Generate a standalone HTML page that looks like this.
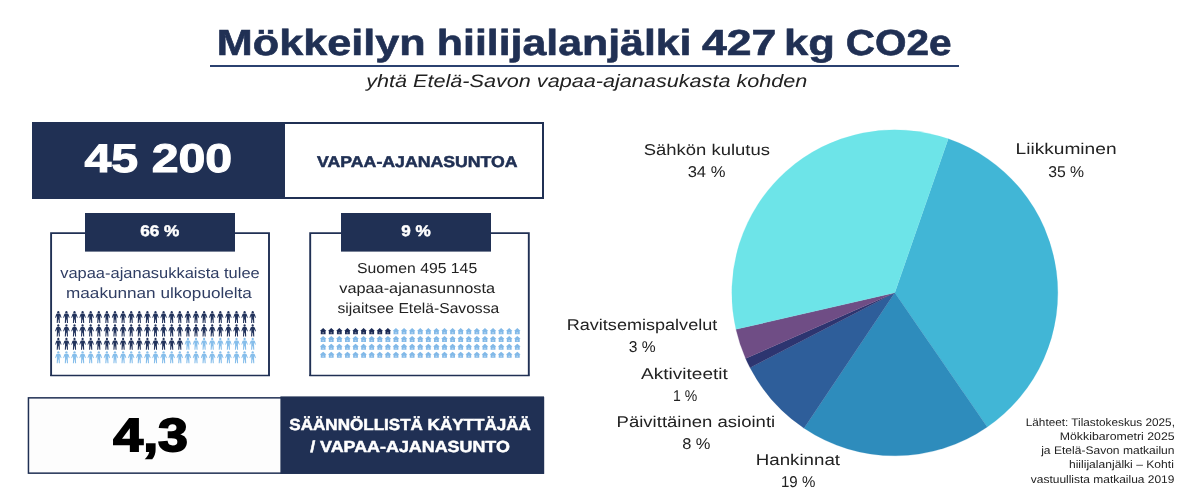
<!DOCTYPE html>
<html lang="fi">
<head>
<meta charset="utf-8">
<title>Mökkeilyn hiilijalanjälki</title>
<style>
html,body{margin:0;padding:0;background:#fff;}
body{width:1200px;height:500px;position:relative;overflow:hidden;font-family:"Liberation Sans",sans-serif;}
.t{position:absolute;left:0;top:0;white-space:nowrap;line-height:1em;transform-origin:0 0;text-rendering:geometricPrecision;}
#txt{position:absolute;left:0;top:0;width:1200px;height:500px;will-change:transform;}
.b{position:absolute;box-sizing:border-box;}
svg{position:absolute;left:0;top:0;}
</style>
</head>
<body>
<!-- title underline -->
<div class="b" style="left:210px;top:65px;width:749px;height:2px;background:#2b4170;"></div>

<!-- top stat box -->
<div class="b" style="left:32px;top:122px;width:512px;height:77px;border:2px solid #203054;background:#fff;"></div>
<div class="b" style="left:32px;top:122px;width:253px;height:77px;background:#203054;"></div>

<svg width="1200" height="500" viewBox="0 0 1200 500">
<defs>
<symbol id="p" overflow="visible">
<ellipse cx="3.4" cy="1.25" rx="1.1" ry="1.2"/><path d="M2.3,2.7 H4.5 Q5.3,2.8 5.6,3.6 L6.6,6.7 L6.0,7.1 L4.9,4.9 L4.8,8 L5.0,12.1 H3.95 L3.6,8.5 H3.2 L2.85,12.1 H1.8 L2.0,8 L1.9,4.9 L0.8,7.1 L0.2,6.7 L1.2,3.6 Q1.5,2.8 2.3,2.7Z"/>
</symbol>
<symbol id="h" overflow="visible">
<path d="M2.95,-0.1 L6.2,2.7 L5.35,2.9 L5.35,5.95 L0.55,5.95 L0.55,2.9 L-0.3,2.7Z"/><rect x="2.15" y="3.9" width="1.6" height="1.5" fill="#fff" fill-opacity="0.38"/>
</symbol>
</defs>
<g id="outlines" fill="none" stroke="#203054">
<path d="M51.1,376.1 V233.1 H269 V375.4" stroke-width="1.9"/>
<path d="M50.2,375.4 H270" stroke-width="1.5"/>
<path d="M310.2,376.1 V233.1 H528.8 V375.4" stroke-width="1.9"/>
<path d="M309.3,375.4 H529.7" stroke-width="1.5"/>
<rect x="28.45" y="397.85" width="515" height="75.3" stroke-width="1.5" fill="#fdfdfd"/>
<rect x="280.4" y="396.4" width="263.6" height="77.4" fill="#203054" stroke="none"/>
<rect x="85" y="213" width="150" height="38.6" fill="#203054" stroke="none"/>
<rect x="341" y="213" width="150" height="38.6" fill="#203054" stroke="none"/>
</g>
<g id="pie">
<path d="M894.8,292.8L948.27,138.82A163.0,163.0 0 0 1 987.27,427.03Z" fill="#41b6d6" stroke="#41b6d6" stroke-width="0.22"/>
<path d="M894.8,292.8L987.27,427.03A163.0,163.0 0 0 1 804.03,428.19Z" fill="#2e8cbc" stroke="#2e8cbc" stroke-width="0.22"/>
<path d="M894.8,292.8L804.03,428.19A163.0,163.0 0 0 1 750.04,367.72Z" fill="#2e5e9a" stroke="#2e5e9a" stroke-width="0.22"/>
<path d="M894.8,292.8L750.04,367.72A163.0,163.0 0 0 1 745.62,358.48Z" fill="#2d3570" stroke="#2d3570" stroke-width="0.22"/>
<path d="M894.8,292.8L745.62,358.48A163.0,163.0 0 0 1 735.95,329.36Z" fill="#6f4d85" stroke="#6f4d85" stroke-width="0.22"/>
<path d="M894.8,292.8L735.95,329.36A163.0,163.0 0 0 1 948.27,138.82Z" fill="#6de4e8" stroke="#6de4e8" stroke-width="0.22"/>
</g>
<g id="people">
<use href="#p" x="54.90" y="310.90" fill="#22335c"/>
<use href="#p" x="63.00" y="310.90" fill="#22335c"/>
<use href="#p" x="71.10" y="310.90" fill="#22335c"/>
<use href="#p" x="79.20" y="310.90" fill="#22335c"/>
<use href="#p" x="87.30" y="310.90" fill="#22335c"/>
<use href="#p" x="95.40" y="310.90" fill="#22335c"/>
<use href="#p" x="103.50" y="310.90" fill="#22335c"/>
<use href="#p" x="111.60" y="310.90" fill="#22335c"/>
<use href="#p" x="119.70" y="310.90" fill="#22335c"/>
<use href="#p" x="127.80" y="310.90" fill="#22335c"/>
<use href="#p" x="135.90" y="310.90" fill="#22335c"/>
<use href="#p" x="144.00" y="310.90" fill="#22335c"/>
<use href="#p" x="152.10" y="310.90" fill="#22335c"/>
<use href="#p" x="160.20" y="310.90" fill="#22335c"/>
<use href="#p" x="168.30" y="310.90" fill="#22335c"/>
<use href="#p" x="176.40" y="310.90" fill="#22335c"/>
<use href="#p" x="184.50" y="310.90" fill="#22335c"/>
<use href="#p" x="192.60" y="310.90" fill="#22335c"/>
<use href="#p" x="200.70" y="310.90" fill="#22335c"/>
<use href="#p" x="208.80" y="310.90" fill="#22335c"/>
<use href="#p" x="216.90" y="310.90" fill="#22335c"/>
<use href="#p" x="225.00" y="310.90" fill="#22335c"/>
<use href="#p" x="233.10" y="310.90" fill="#22335c"/>
<use href="#p" x="241.20" y="310.90" fill="#22335c"/>
<use href="#p" x="249.30" y="310.90" fill="#22335c"/>
<use href="#p" x="54.90" y="324.30" fill="#22335c"/>
<use href="#p" x="63.00" y="324.30" fill="#22335c"/>
<use href="#p" x="71.10" y="324.30" fill="#22335c"/>
<use href="#p" x="79.20" y="324.30" fill="#22335c"/>
<use href="#p" x="87.30" y="324.30" fill="#22335c"/>
<use href="#p" x="95.40" y="324.30" fill="#22335c"/>
<use href="#p" x="103.50" y="324.30" fill="#22335c"/>
<use href="#p" x="111.60" y="324.30" fill="#22335c"/>
<use href="#p" x="119.70" y="324.30" fill="#22335c"/>
<use href="#p" x="127.80" y="324.30" fill="#22335c"/>
<use href="#p" x="135.90" y="324.30" fill="#22335c"/>
<use href="#p" x="144.00" y="324.30" fill="#22335c"/>
<use href="#p" x="152.10" y="324.30" fill="#22335c"/>
<use href="#p" x="160.20" y="324.30" fill="#22335c"/>
<use href="#p" x="168.30" y="324.30" fill="#22335c"/>
<use href="#p" x="176.40" y="324.30" fill="#22335c"/>
<use href="#p" x="184.50" y="324.30" fill="#22335c"/>
<use href="#p" x="192.60" y="324.30" fill="#22335c"/>
<use href="#p" x="200.70" y="324.30" fill="#22335c"/>
<use href="#p" x="208.80" y="324.30" fill="#22335c"/>
<use href="#p" x="216.90" y="324.30" fill="#22335c"/>
<use href="#p" x="225.00" y="324.30" fill="#22335c"/>
<use href="#p" x="233.10" y="324.30" fill="#22335c"/>
<use href="#p" x="241.20" y="324.30" fill="#22335c"/>
<use href="#p" x="249.30" y="324.30" fill="#22335c"/>
<use href="#p" x="54.90" y="337.70" fill="#22335c"/>
<use href="#p" x="63.00" y="337.70" fill="#22335c"/>
<use href="#p" x="71.10" y="337.70" fill="#22335c"/>
<use href="#p" x="79.20" y="337.70" fill="#22335c"/>
<use href="#p" x="87.30" y="337.70" fill="#22335c"/>
<use href="#p" x="95.40" y="337.70" fill="#22335c"/>
<use href="#p" x="103.50" y="337.70" fill="#22335c"/>
<use href="#p" x="111.60" y="337.70" fill="#22335c"/>
<use href="#p" x="119.70" y="337.70" fill="#22335c"/>
<use href="#p" x="127.80" y="337.70" fill="#22335c"/>
<use href="#p" x="135.90" y="337.70" fill="#22335c"/>
<use href="#p" x="144.00" y="337.70" fill="#22335c"/>
<use href="#p" x="152.10" y="337.70" fill="#22335c"/>
<use href="#p" x="160.20" y="337.70" fill="#22335c"/>
<use href="#p" x="168.30" y="337.70" fill="#22335c"/>
<use href="#p" x="176.40" y="337.70" fill="#22335c"/>
<use href="#p" x="184.50" y="337.70" fill="#86beeb"/>
<use href="#p" x="192.60" y="337.70" fill="#86beeb"/>
<use href="#p" x="200.70" y="337.70" fill="#86beeb"/>
<use href="#p" x="208.80" y="337.70" fill="#86beeb"/>
<use href="#p" x="216.90" y="337.70" fill="#86beeb"/>
<use href="#p" x="225.00" y="337.70" fill="#86beeb"/>
<use href="#p" x="233.10" y="337.70" fill="#86beeb"/>
<use href="#p" x="241.20" y="337.70" fill="#86beeb"/>
<use href="#p" x="249.30" y="337.70" fill="#86beeb"/>
<use href="#p" x="54.90" y="351.10" fill="#86beeb"/>
<use href="#p" x="63.00" y="351.10" fill="#86beeb"/>
<use href="#p" x="71.10" y="351.10" fill="#86beeb"/>
<use href="#p" x="79.20" y="351.10" fill="#86beeb"/>
<use href="#p" x="87.30" y="351.10" fill="#86beeb"/>
<use href="#p" x="95.40" y="351.10" fill="#86beeb"/>
<use href="#p" x="103.50" y="351.10" fill="#86beeb"/>
<use href="#p" x="111.60" y="351.10" fill="#86beeb"/>
<use href="#p" x="119.70" y="351.10" fill="#86beeb"/>
<use href="#p" x="127.80" y="351.10" fill="#86beeb"/>
<use href="#p" x="135.90" y="351.10" fill="#86beeb"/>
<use href="#p" x="144.00" y="351.10" fill="#86beeb"/>
<use href="#p" x="152.10" y="351.10" fill="#86beeb"/>
<use href="#p" x="160.20" y="351.10" fill="#86beeb"/>
<use href="#p" x="168.30" y="351.10" fill="#86beeb"/>
<use href="#p" x="176.40" y="351.10" fill="#86beeb"/>
<use href="#p" x="184.50" y="351.10" fill="#86beeb"/>
<use href="#p" x="192.60" y="351.10" fill="#86beeb"/>
<use href="#p" x="200.70" y="351.10" fill="#86beeb"/>
<use href="#p" x="208.80" y="351.10" fill="#86beeb"/>
<use href="#p" x="216.90" y="351.10" fill="#86beeb"/>
<use href="#p" x="225.00" y="351.10" fill="#86beeb"/>
<use href="#p" x="233.10" y="351.10" fill="#86beeb"/>
<use href="#p" x="241.20" y="351.10" fill="#86beeb"/>
<use href="#p" x="249.30" y="351.10" fill="#86beeb"/>
</g>
<g id="houses">
<use href="#h" x="320.20" y="328.20" fill="#1c2b55"/>
<use href="#h" x="328.29" y="328.20" fill="#1c2b55"/>
<use href="#h" x="336.38" y="328.20" fill="#1c2b55"/>
<use href="#h" x="344.47" y="328.20" fill="#1c2b55"/>
<use href="#h" x="352.56" y="328.20" fill="#1c2b55"/>
<use href="#h" x="360.65" y="328.20" fill="#1c2b55"/>
<use href="#h" x="368.74" y="328.20" fill="#1c2b55"/>
<use href="#h" x="376.83" y="328.20" fill="#1c2b55"/>
<use href="#h" x="384.92" y="328.20" fill="#1c2b55"/>
<use href="#h" x="393.01" y="328.20" fill="#82b9e8"/>
<use href="#h" x="401.10" y="328.20" fill="#82b9e8"/>
<use href="#h" x="409.19" y="328.20" fill="#82b9e8"/>
<use href="#h" x="417.28" y="328.20" fill="#82b9e8"/>
<use href="#h" x="425.37" y="328.20" fill="#82b9e8"/>
<use href="#h" x="433.46" y="328.20" fill="#82b9e8"/>
<use href="#h" x="441.55" y="328.20" fill="#82b9e8"/>
<use href="#h" x="449.64" y="328.20" fill="#82b9e8"/>
<use href="#h" x="457.73" y="328.20" fill="#82b9e8"/>
<use href="#h" x="465.82" y="328.20" fill="#82b9e8"/>
<use href="#h" x="473.91" y="328.20" fill="#82b9e8"/>
<use href="#h" x="482.00" y="328.20" fill="#82b9e8"/>
<use href="#h" x="490.09" y="328.20" fill="#82b9e8"/>
<use href="#h" x="498.18" y="328.20" fill="#82b9e8"/>
<use href="#h" x="506.27" y="328.20" fill="#82b9e8"/>
<use href="#h" x="514.36" y="328.20" fill="#82b9e8"/>
<use href="#h" x="320.20" y="336.05" fill="#82b9e8"/>
<use href="#h" x="328.29" y="336.05" fill="#82b9e8"/>
<use href="#h" x="336.38" y="336.05" fill="#82b9e8"/>
<use href="#h" x="344.47" y="336.05" fill="#82b9e8"/>
<use href="#h" x="352.56" y="336.05" fill="#82b9e8"/>
<use href="#h" x="360.65" y="336.05" fill="#82b9e8"/>
<use href="#h" x="368.74" y="336.05" fill="#82b9e8"/>
<use href="#h" x="376.83" y="336.05" fill="#82b9e8"/>
<use href="#h" x="384.92" y="336.05" fill="#82b9e8"/>
<use href="#h" x="393.01" y="336.05" fill="#82b9e8"/>
<use href="#h" x="401.10" y="336.05" fill="#82b9e8"/>
<use href="#h" x="409.19" y="336.05" fill="#82b9e8"/>
<use href="#h" x="417.28" y="336.05" fill="#82b9e8"/>
<use href="#h" x="425.37" y="336.05" fill="#82b9e8"/>
<use href="#h" x="433.46" y="336.05" fill="#82b9e8"/>
<use href="#h" x="441.55" y="336.05" fill="#82b9e8"/>
<use href="#h" x="449.64" y="336.05" fill="#82b9e8"/>
<use href="#h" x="457.73" y="336.05" fill="#82b9e8"/>
<use href="#h" x="465.82" y="336.05" fill="#82b9e8"/>
<use href="#h" x="473.91" y="336.05" fill="#82b9e8"/>
<use href="#h" x="482.00" y="336.05" fill="#82b9e8"/>
<use href="#h" x="490.09" y="336.05" fill="#82b9e8"/>
<use href="#h" x="498.18" y="336.05" fill="#82b9e8"/>
<use href="#h" x="506.27" y="336.05" fill="#82b9e8"/>
<use href="#h" x="514.36" y="336.05" fill="#82b9e8"/>
<use href="#h" x="320.20" y="343.90" fill="#82b9e8"/>
<use href="#h" x="328.29" y="343.90" fill="#82b9e8"/>
<use href="#h" x="336.38" y="343.90" fill="#82b9e8"/>
<use href="#h" x="344.47" y="343.90" fill="#82b9e8"/>
<use href="#h" x="352.56" y="343.90" fill="#82b9e8"/>
<use href="#h" x="360.65" y="343.90" fill="#82b9e8"/>
<use href="#h" x="368.74" y="343.90" fill="#82b9e8"/>
<use href="#h" x="376.83" y="343.90" fill="#82b9e8"/>
<use href="#h" x="384.92" y="343.90" fill="#82b9e8"/>
<use href="#h" x="393.01" y="343.90" fill="#82b9e8"/>
<use href="#h" x="401.10" y="343.90" fill="#82b9e8"/>
<use href="#h" x="409.19" y="343.90" fill="#82b9e8"/>
<use href="#h" x="417.28" y="343.90" fill="#82b9e8"/>
<use href="#h" x="425.37" y="343.90" fill="#82b9e8"/>
<use href="#h" x="433.46" y="343.90" fill="#82b9e8"/>
<use href="#h" x="441.55" y="343.90" fill="#82b9e8"/>
<use href="#h" x="449.64" y="343.90" fill="#82b9e8"/>
<use href="#h" x="457.73" y="343.90" fill="#82b9e8"/>
<use href="#h" x="465.82" y="343.90" fill="#82b9e8"/>
<use href="#h" x="473.91" y="343.90" fill="#82b9e8"/>
<use href="#h" x="482.00" y="343.90" fill="#82b9e8"/>
<use href="#h" x="490.09" y="343.90" fill="#82b9e8"/>
<use href="#h" x="498.18" y="343.90" fill="#82b9e8"/>
<use href="#h" x="506.27" y="343.90" fill="#82b9e8"/>
<use href="#h" x="514.36" y="343.90" fill="#82b9e8"/>
<use href="#h" x="320.20" y="351.75" fill="#82b9e8"/>
<use href="#h" x="328.29" y="351.75" fill="#82b9e8"/>
<use href="#h" x="336.38" y="351.75" fill="#82b9e8"/>
<use href="#h" x="344.47" y="351.75" fill="#82b9e8"/>
<use href="#h" x="352.56" y="351.75" fill="#82b9e8"/>
<use href="#h" x="360.65" y="351.75" fill="#82b9e8"/>
<use href="#h" x="368.74" y="351.75" fill="#82b9e8"/>
<use href="#h" x="376.83" y="351.75" fill="#82b9e8"/>
<use href="#h" x="384.92" y="351.75" fill="#82b9e8"/>
<use href="#h" x="393.01" y="351.75" fill="#82b9e8"/>
<use href="#h" x="401.10" y="351.75" fill="#82b9e8"/>
<use href="#h" x="409.19" y="351.75" fill="#82b9e8"/>
<use href="#h" x="417.28" y="351.75" fill="#82b9e8"/>
<use href="#h" x="425.37" y="351.75" fill="#82b9e8"/>
<use href="#h" x="433.46" y="351.75" fill="#82b9e8"/>
<use href="#h" x="441.55" y="351.75" fill="#82b9e8"/>
<use href="#h" x="449.64" y="351.75" fill="#82b9e8"/>
<use href="#h" x="457.73" y="351.75" fill="#82b9e8"/>
<use href="#h" x="465.82" y="351.75" fill="#82b9e8"/>
<use href="#h" x="473.91" y="351.75" fill="#82b9e8"/>
<use href="#h" x="482.00" y="351.75" fill="#82b9e8"/>
<use href="#h" x="490.09" y="351.75" fill="#82b9e8"/>
<use href="#h" x="498.18" y="351.75" fill="#82b9e8"/>
<use href="#h" x="506.27" y="351.75" fill="#82b9e8"/>
<use href="#h" x="514.36" y="351.75" fill="#82b9e8"/>
</g>
</svg>

<div id="txt">
<div class="t" style="font-size:36.2px;color:#203054;transform:translate(216.85px,24.79px) scaleX(1.1931);font-weight:bold;-webkit-text-stroke:0.6px #203054;">Mökkeilyn</div>
<div class="t" style="font-size:36.2px;color:#203054;transform:translate(436.83px,24.79px) scaleX(1.1835);font-weight:bold;-webkit-text-stroke:0.6px #203054;">hiilijalanjälki</div>
<div class="t" style="font-size:36.2px;color:#203054;transform:translate(701.91px,24.74px) scaleX(1.2328);font-weight:bold;-webkit-text-stroke:0.6px #203054;">427</div>
<div class="t" style="font-size:36.2px;color:#203054;transform:translate(783.90px,24.71px) scaleX(1.2041);font-weight:bold;-webkit-text-stroke:0.6px #203054;">kg</div>
<div class="t" style="font-size:36.2px;color:#203054;transform:translate(845.75px,24.68px) scaleX(1.1197);font-weight:bold;-webkit-text-stroke:0.6px #203054;">CO2e</div>
<div class="t" style="font-size:18px;color:#222222;transform:translate(366.18px,72.10px) scaleX(1.2013);font-style:italic;">yhtä Etelä-Savon vapaa-ajanasukasta kohden</div>
<div class="t" style="font-size:40px;color:#fff;transform:translate(84.49px,138.64px) scaleX(1.2075);font-weight:bold;-webkit-text-stroke:1.0px #fff;">45 200</div>
<div class="t" style="font-size:15.7px;color:#203054;transform:translate(317.10px,155.00px) scaleX(1.1276);font-weight:bold;-webkit-text-stroke:0.5px #203054;">VAPAA-AJANASUNTOA</div>
<div class="t" style="font-size:15.3px;color:#fff;transform:translate(140.21px,224.09px) scaleX(1.1225);font-weight:bold;-webkit-text-stroke:0.5px #fff;">66 %</div>
<div class="t" style="font-size:15.3px;color:#fff;transform:translate(401.23px,224.09px) scaleX(1.1167);font-weight:bold;-webkit-text-stroke:0.5px #fff;">9 %</div>
<div class="t" style="font-size:15px;color:#2f3d63;transform:translate(60.15px,266.14px) scaleX(1.0980);">vapaa-ajanasukkaista tulee</div>
<div class="t" style="font-size:15px;color:#2f3d63;transform:translate(66.04px,286.28px) scaleX(1.1429);">maakunnan ulkopuolelta</div>
<div class="t" style="font-size:14.4px;color:#222222;transform:translate(357.03px,261.57px) scaleX(1.0959);">Suomen 495 145</div>
<div class="t" style="font-size:14.4px;color:#222222;transform:translate(339.27px,281.96px) scaleX(1.1324);">vapaa-ajanasunnosta</div>
<div class="t" style="font-size:14.4px;color:#222222;transform:translate(337.55px,301.95px) scaleX(1.0865);">sijaitsee Etelä-Savossa</div>
<div class="t" style="font-size:46.8px;color:#000;transform:translate(113.28px,412.38px) scaleX(1.1479);font-weight:bold;-webkit-text-stroke:1.8px #000;">4,3</div>
<div class="t" style="font-size:16.0px;color:#fff;transform:translate(289.35px,418.19px) scaleX(1.0653);font-weight:bold;-webkit-text-stroke:0.5px #fff;">SÄÄNNÖLLISTÄ KÄYTTÄJÄÄ</div>
<div class="t" style="font-size:16.0px;color:#fff;transform:translate(310.14px,440.31px) scaleX(1.1175);font-weight:bold;-webkit-text-stroke:0.5px #fff;">/ VAPAA-AJANASUNTO</div>
<div class="t" style="font-size:15.6px;color:#222222;transform:translate(643.72px,142.67px) scaleX(1.1839);">Sähkön kulutus</div>
<div class="t" style="font-size:15.6px;color:#222222;transform:translate(687.66px,164.79px) scaleX(1.0611);">34 %</div>
<div class="t" style="font-size:15.6px;color:#222222;transform:translate(1015.49px,142.11px) scaleX(1.2274);">Liikkuminen</div>
<div class="t" style="font-size:15.6px;color:#222222;transform:translate(1048.13px,164.79px) scaleX(1.0106);">35 %</div>
<div class="t" style="font-size:15.6px;color:#222222;transform:translate(566.71px,317.73px) scaleX(1.1581);">Ravitsemispalvelut</div>
<div class="t" style="font-size:15.6px;color:#222222;transform:translate(628.65px,339.80px) scaleX(1.0016);">3 %</div>
<div class="t" style="font-size:15.6px;color:#222222;transform:translate(641.09px,366.97px) scaleX(1.2204);">Aktiviteetit</div>
<div class="t" style="font-size:15.6px;color:#222222;transform:translate(673.04px,389.13px) scaleX(0.9000);">1 %</div>
<div class="t" style="font-size:15.6px;color:#222222;transform:translate(616.58px,415.07px) scaleX(1.1879);">Päivittäinen asiointi</div>
<div class="t" style="font-size:15.6px;color:#222222;transform:translate(682.15px,437.21px) scaleX(1.0542);">8 %</div>
<div class="t" style="font-size:15.6px;color:#222222;transform:translate(755.76px,453.07px) scaleX(1.1995);">Hankinnat</div>
<div class="t" style="font-size:15.6px;color:#222222;transform:translate(781.00px,475.13px) scaleX(0.9644);">19 %</div>
<div class="t" style="font-size:11px;color:#222222;transform:translate(1025.75px,417.70px) scaleX(1.0699);">Lähteet: Tilastokeskus 2025,</div>
<div class="t" style="font-size:11px;color:#222222;transform:translate(1059.78px,431.69px) scaleX(1.1180);">Mökkibarometri 2025</div>
<div class="t" style="font-size:11px;color:#222222;transform:translate(1041.18px,446.48px) scaleX(1.0957);">ja Etelä-Savon matkailun</div>
<div class="t" style="font-size:11px;color:#222222;transform:translate(1068.94px,460.08px) scaleX(1.0995);">hiilijalanjälki – Kohti</div>
<div class="t" style="font-size:11px;color:#222222;transform:translate(1030.81px,474.91px) scaleX(1.0869);">vastuullista matkailua 2019</div>
</div>
</body>
</html>
